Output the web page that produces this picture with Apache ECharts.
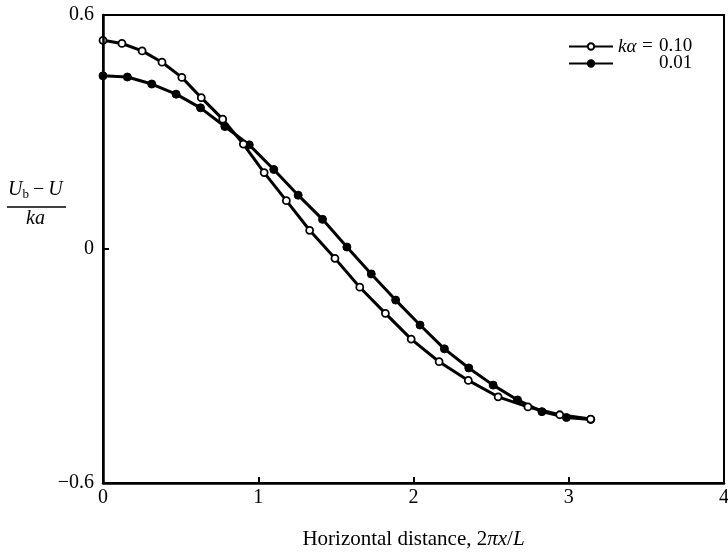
<!DOCTYPE html>
<html>
<head>
<meta charset="utf-8">
<script src="https://cdn.jsdelivr.net/npm/echarts@6/dist/echarts.min.js"></script>
<style>
  html, body { margin: 0; padding: 0; background: #fff; }
  #chart { width: 728px; height: 552px; }
</style>
</head>
<body>
<div id="chart"></div>
<script>
// ka = 0.10 (open circles)
const openX = [0, 0.122, 0.252, 0.380, 0.508, 0.633, 0.771, 0.904, 1.038, 1.181, 1.331,
  1.494, 1.654, 1.819, 1.985, 2.165, 2.353, 2.545, 2.737, 2.942, 3.141];
const openY = [0.535, 0.527, 0.508, 0.479, 0.440, 0.388, 0.333, 0.269, 0.196, 0.124, 0.048,
  -0.024, -0.098, -0.165, -0.231, -0.289, -0.337, -0.379, -0.405, -0.425, -0.436];
// ka = 0.01 (filled circles)
const filledX = [0, 0.157, 0.314, 0.471, 0.628, 0.785, 0.942, 1.100, 1.257, 1.414, 1.571,
  1.728, 1.885, 2.042, 2.199, 2.356, 2.513, 2.670, 2.827, 2.985, 3.142];
const filledY = [0.444, 0.441, 0.423, 0.397, 0.362, 0.314, 0.267, 0.204, 0.138, 0.076, 0.005,
  -0.064, -0.131, -0.195, -0.256, -0.305, -0.349, -0.387, -0.417, -0.432, -0.437];

const xTicks = [0, 1, 2, 3, 4];
const yTicks = [-0.6, 0, 0.6];

const serif = '"Liberation Serif", "DejaVu Serif", serif';

const chart = echarts.init(document.getElementById('chart'));

const pairs = (xs, ys) => xs.map((x, i) => [x, ys[i]]);

// short inward tick marks, shared by both axes
const tickStyle = { show: true, inside: true, length: 6, lineStyle: { color: '#000', width: 2 } };

const option = {
  animation: false,
  backgroundColor: '#fff',
  grid: {
    left: 103,
    right: 4,
    top: 15,
    bottom: 69,
    outerBoundsMode: 'none',
    containLabel: false,
    show: true,
    borderColor: '#000',
    borderWidth: 2,
  },
  xAxis: {
    type: 'value',
    min: xTicks[0],
    max: xTicks[xTicks.length - 1],
    interval: 1,
    z: 5,
    splitLine: { show: false },
    axisLine: { show: true, onZero: false, lineStyle: { color: '#000', width: 2.5 } },
    axisTick: tickStyle,
    axisLabel: {
      color: '#000',
      fontFamily: serif,
      fontSize: 20,
      margin: 5,
      showMinLabel: true,
      showMaxLabel: true,
    },
    name: '{n|Horizontal distance, }{n|2}{i|πx}{n|/}{i|L}',
    nameLocation: 'middle',
    nameGap: 46,
    nameTextStyle: {
      rich: {
        n: { fontFamily: serif, fontSize: 21, color: '#000' },
        i: { fontFamily: serif, fontSize: 21, fontStyle: 'italic', color: '#000' },
      },
    },
  },
  yAxis: {
    type: 'value',
    min: yTicks[0],
    max: yTicks[yTicks.length - 1],
    interval: 0.6,
    z: 5,
    splitLine: { show: false },
    axisLine: { show: true, onZero: false, lineStyle: { color: '#000', width: 2.5 } },
    axisTick: tickStyle,
    axisLabel: {
      color: '#000',
      fontFamily: serif,
      fontSize: 20,
      margin: 9,
      formatter: (v) => {
        if (Math.abs(v) < 1e-9) return '0';
        return v < 0 ? '\u2212' + Math.abs(v).toFixed(1) : v.toFixed(1);
      },
    },
  },
  legend: {
    orient: 'vertical',
    left: 563,
    top: 32,
    itemWidth: 44,
    itemHeight: 8,
    itemGap: -2,
    data: ['a', 'b'],
    formatter: (name) => (name === 'a' ? '{k|kα}{e|=}{v|0.10}' : '{p|}{v|0.01}'),
    textStyle: {
      color: '#000',
      padding: [0, 0, 0, 0],
      lineHeight: 17,
      rich: {
        k: { fontFamily: serif, fontStyle: 'italic', fontSize: 19, width: 24, lineHeight: 17, color: '#000' },
        e: { fontFamily: serif, fontSize: 19, width: 17, lineHeight: 17, color: '#000' },
        p: { width: 41, lineHeight: 17 },
        v: { fontFamily: serif, fontSize: 19, lineHeight: 17, color: '#000' },
      },
    },
  },
  graphic: [
    {
      type: 'text',
      left: 8,
      top: 180,
      style: {
        text: '{u|U}{s|b}{m|\u2009\u2212\u2009}{u|U}',
        rich: {
          u: { fontFamily: serif, fontStyle: 'italic', fontSize: 20, fill: '#000' },
          s: { fontFamily: serif, fontSize: 13, fill: '#000', padding: [10, 0, 0, 0] },
          m: { fontFamily: serif, fontSize: 20, fill: '#000' },
        },
      },
    },
    {
      type: 'line',
      shape: { x1: 7, y1: 207, x2: 66, y2: 207 },
      style: { stroke: '#000', lineWidth: 1.5 },
    },
    {
      type: 'text',
      left: 26,
      top: 209,
      style: {
        text: 'ka',
        fontFamily: serif,
        fontStyle: 'italic',
        fontSize: 20,
        fill: '#000',
      },
    },
  ],
  series: [
    {
      name: 'a',
      type: 'line',
      data: pairs(openX, openY),
      symbol: 'circle',
      symbolSize: 7,
      showAllSymbol: true,
      lineStyle: { color: '#000', width: 3 },
      itemStyle: { color: '#fff', borderColor: '#000', borderWidth: 1.8 },
      z: 3,
    },
    {
      name: 'b',
      type: 'line',
      data: pairs(filledX, filledY),
      symbol: 'circle',
      symbolSize: 8,
      showAllSymbol: true,
      lineStyle: { color: '#000', width: 3 },
      itemStyle: { color: '#000', borderColor: '#000', borderWidth: 1 },
      z: 2,
    },
  ],
};

chart.setOption(option);
</script>
</body>
</html>
